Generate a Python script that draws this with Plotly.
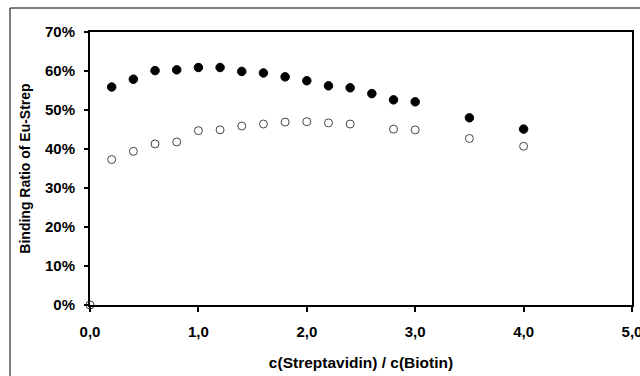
import plotly.graph_objects as go

x_filled = [0.2, 0.4, 0.6, 0.8, 1.0, 1.2, 1.4, 1.6, 1.8, 2.0, 2.2, 2.4, 2.6, 2.8, 3.0, 3.5, 4.0]
y_filled = [0.559, 0.579, 0.601, 0.603, 0.609, 0.609, 0.599, 0.595, 0.585, 0.575, 0.562, 0.557, 0.542, 0.526, 0.521, 0.480, 0.451]

x_open = [0.0, 0.2, 0.4, 0.6, 0.8, 1.0, 1.2, 1.4, 1.6, 1.8, 2.0, 2.2, 2.4, 2.8, 3.0, 3.5, 4.0]
y_open = [0.0, 0.373, 0.394, 0.413, 0.418, 0.447, 0.449, 0.459, 0.464, 0.469, 0.470, 0.467, 0.464, 0.451, 0.449, 0.427, 0.407]

x_ticks = [0, 1, 2, 3, 4, 5]
x_tick_labels = ["0,0", "1,0", "2,0", "3,0", "4,0", "5,0"]
y_ticks = [0, 0.1, 0.2, 0.3, 0.4, 0.5, 0.6, 0.7]
y_tick_labels = ["0%", "10%", "20%", "30%", "40%", "50%", "60%", "70%"]

font_family = "Liberation Sans, Arial, sans-serif"

fig = go.Figure()
fig.add_trace(go.Scatter(
    x=x_filled, y=y_filled, mode="markers",
    marker=dict(symbol="circle", size=8.5, color="black", line=dict(color="black", width=1)),
    cliponaxis=False, showlegend=False,
))
fig.add_trace(go.Scatter(
    x=x_open, y=y_open, mode="markers",
    marker=dict(symbol="circle", size=8, color="white", line=dict(color="#444444", width=1)),
    cliponaxis=False, showlegend=False,
))

W, H = 640, 376
L, R, T, B = 90, 8, 32, 71
pw, ph = W - L - R, H - T - B

def px_x(p):
    return (p - L) / pw

def px_y(p):
    return (H - B - p) / ph

fig.add_shape(type="rect", xref="paper", yref="paper",
              x0=px_x(10), x1=px_x(660), y0=px_y(400), y1=px_y(8),
              line=dict(color="black", width=1), fillcolor="rgba(0,0,0,0)", layer="below")

tick_font = dict(family=font_family, size=15, color="black", weight="bold")

fig.update_layout(
    width=W, height=H,
    margin=dict(l=L, r=R, t=T, b=B, autoexpand=False),
    paper_bgcolor="white", plot_bgcolor="white",
    font=dict(family=font_family, color="black", size=13),
    xaxis=dict(
        range=[0, 5], tickvals=x_ticks, ticktext=x_tick_labels,
        showgrid=False, zeroline=False, automargin=False,
        showline=True, linecolor="black", linewidth=2, mirror=True,
        ticks="outside", ticklen=5, tickwidth=1.5, tickcolor="black",
        tickfont=tick_font, ticklabelstandoff=7, ticklabeloverflow="allow",
        title=dict(text="c(Streptavidin) / c(Biotin)", standoff=18,
                   font=dict(family=font_family, size=15.5, color="black", weight="bold")),
    ),
    yaxis=dict(
        range=[0, 0.7], tickvals=y_ticks, ticktext=y_tick_labels,
        showgrid=False, zeroline=False, automargin=False,
        showline=True, linecolor="black", linewidth=2, mirror=True,
        ticks="outside", ticklen=4, tickwidth=1.5, tickcolor="black",
        tickfont=tick_font, ticklabelstandoff=6, ticklabeloverflow="allow",
        title=dict(text="Binding Ratio of Eu-Strep", standoff=11,
                   font=dict(family=font_family, size=14, color="black", weight="bold")),
    ),
)

fig.write_html("out.html", config={"displayModeBar": False},
               post_script="document.body.style.margin='0';document.body.style.overflow='hidden';")
